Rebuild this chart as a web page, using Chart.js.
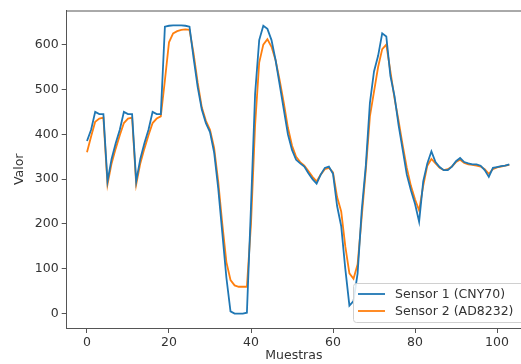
<!DOCTYPE html>
<html lang="es">
<head>
    <meta charset="UTF-8">
    <title>Sensor 1 vs Sensor 2</title>
    <script src="https://cdn.jsdelivr.net/npm/chart.js"></script>
    <style>
        body { margin: 0; background: #fff; }
        .chart-box { width: 521px; height: 364px; position: relative; }
    </style>
</head>
<body>
    <div class="chart-box">
        <canvas id="sensorChart"></canvas>
    </div>

    <script>
        // Valores (una muestra por índice 0..103)
        const seriesLabels = ['Sensor 1 (CNY70)', 'Sensor 2 (AD8232)'];
        const seriesColors = ['#1f77b4', '#ff7f0e'];

        const sensor1 = [
            385, 410, 450, 445, 445, 295, 345, 380, 410, 450,
            445, 445, 295, 345, 380, 410, 450, 445, 445, 640,
            642, 643, 643, 643, 642, 640, 570, 505, 455, 425,
            405, 360, 280, 180, 80, 5, 0, 0, 0, 2,
            240, 490, 610, 642, 635, 610, 565, 510, 455, 400,
            365, 343, 335, 328, 313, 300, 290, 310, 325, 328,
            312, 240, 195, 100, 18, 28, 90, 230, 330, 470,
            540, 575, 625, 618, 530, 485, 420, 365, 310, 275,
            245, 205, 295, 335, 362, 338, 327, 320, 320, 328,
            340, 347, 338, 335, 333, 333, 330, 320, 305, 325,
            327, 329, 330, 333
        ];

        const sensor2 = [
            360, 395, 428, 435, 437, 288, 335, 368, 398, 425,
            435, 437, 288, 335, 368, 398, 425, 435, 440, 520,
            605, 625, 630, 633, 634, 633, 580, 515, 460, 430,
            410, 370, 295, 200, 115, 75, 63, 60, 60, 60,
            200, 420, 560, 600, 612, 595, 565, 520, 470, 415,
            375, 350, 338, 330, 318, 305, 295, 310, 322, 325,
            315, 260, 228, 150, 90, 78, 110, 215, 320, 440,
            495, 550, 590, 600, 540, 480, 430, 375, 325, 285,
            255, 230, 285, 330, 345, 335, 325, 320, 322, 328,
            338, 343, 336, 333, 332, 330, 328, 322, 312, 322,
            326, 328, 330, 332
        ];

        const xTicks = [0, 20, 40, 60, 80, 100];
        const yTicks = [0, 100, 200, 300, 400, 500, 600];

        const axisColor = '#555';
        const textColor = '#333';
        const baseFont = { family: 'DejaVu Sans', size: 12.5 };

        // marco superior (el derecho queda fuera de la imagen)
        const topFrame = {
            id: 'topFrame',
            afterDraw(chart) {
                const { ctx, chartArea } = chart;
                ctx.save();
                ctx.strokeStyle = axisColor;
                ctx.lineWidth = 1;
                ctx.beginPath();
                ctx.moveTo(chartArea.left, chartArea.top + 0.5);
                ctx.lineTo(chartArea.right, chartArea.top + 0.5);
                ctx.stroke();
                ctx.restore();
            }
        };

        // leyenda dentro del área, abajo a la derecha
        const insideLegend = {
            id: 'insideLegend',
            afterDraw(chart) {
                const { ctx } = chart;
                const x0 = 353, y0 = 283, w = 180, h = 39;
                ctx.save();
                ctx.fillStyle = 'rgba(255,255,255,0.85)';
                ctx.strokeStyle = '#d0d0d0';
                ctx.lineWidth = 1;
                ctx.beginPath();
                ctx.roundRect(x0 + 0.5, y0 + 0.5, w, h, 3);
                ctx.fill();
                ctx.stroke();
                ctx.font = '12.5px "DejaVu Sans"';
                ctx.textBaseline = 'middle';
                chart.data.datasets.forEach((ds, i) => {
                    const y = y0 + 11 + i * 17;
                    ctx.strokeStyle = ds.borderColor;
                    ctx.lineWidth = 1.8;
                    ctx.beginPath();
                    ctx.moveTo(358, y);
                    ctx.lineTo(385, y);
                    ctx.stroke();
                    ctx.fillStyle = textColor;
                    ctx.fillText(ds.label, 395, y + 1);
                });
                ctx.restore();
            }
        };

        const datasets = [sensor1, sensor2].map((values, i) => ({
            label: seriesLabels[i],
            data: values.map((v, idx) => ({ x: idx, y: v })),
            borderColor: seriesColors[i],
            backgroundColor: seriesColors[i],
            borderWidth: 1.8,
            pointRadius: 0,
            tension: 0,
            fill: false
        }));

        new Chart(document.getElementById('sensorChart'), {
            type: 'line',
            data: { datasets: datasets },
            plugins: [topFrame, insideLegend],
            options: {
                responsive: true,
                maintainAspectRatio: false,
                animation: false,
                layout: { padding: { top: 9, left: 0, right: 0, bottom: 0 } },
                plugins: {
                    legend: { display: false },
                    tooltip: { enabled: false }
                },
                scales: {
                    x: {
                        type: 'linear',
                        min: -4.95,
                        max: 105.85,
                        afterFit: (scale) => { scale.height = 36; },
                        afterBuildTicks: (scale) => { scale.ticks = xTicks.map(v => ({ value: v })); },
                        ticks: { color: textColor, font: baseFont, padding: 2, maxRotation: 0 },
                        grid: { drawOnChartArea: false, drawTicks: true, tickLength: 5, color: axisColor },
                        border: { display: true, color: axisColor, width: 1 },
                        title: { display: true, text: 'Muestras', color: textColor, font: baseFont, padding: { top: 0, bottom: 1 } }
                    },
                    y: {
                        min: -32,
                        max: 676,
                        afterFit: (scale) => { scale.width = 66.7; },
                        afterBuildTicks: (scale) => { scale.ticks = yTicks.map(v => ({ value: v })); },
                        ticks: { color: textColor, font: baseFont, padding: 3 },
                        grid: { drawOnChartArea: false, drawTicks: true, tickLength: 5, color: axisColor },
                        border: { display: true, color: axisColor, width: 1 },
                        title: { display: true, text: 'Valor', color: textColor, font: baseFont, padding: { top: 12, bottom: 0 } }
                    }
                }
            }
        });
    </script>
</body>
</html>
